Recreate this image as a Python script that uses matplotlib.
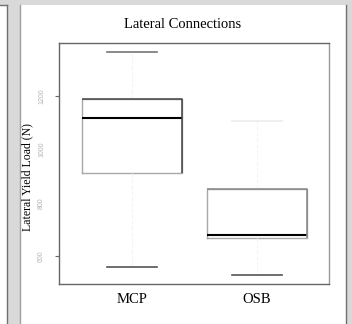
import matplotlib
matplotlib.use('Agg')
import matplotlib.pyplot as plt
from matplotlib.patches import Rectangle
from matplotlib.lines import Line2D

# data
groups = ['MCP', 'OSB']
whislo = [560, 528]
q1 = [912, 666]
med = [1116, 680]
q3 = [1189, 851]
whishi = [1366, 1107]
yticks = [600, 800, 1000, 1200]

W, H = 352, 324
fig = plt.figure(figsize=(W / 100, H / 100), dpi=100)
fig.patch.set_facecolor('white')

def px(x, y):
    # pixel (top-left origin) to figure fraction
    return x / W, 1 - y / H

def rect(x0, y0, x1, y1, color):
    fx, fy = px(x0, y1)
    fig.add_artist(Rectangle((fx, fy), (x1 - x0) / W, (y1 - y0) / H,
                             transform=fig.transFigure, color=color, lw=0, zorder=0))

def vline(x, y0, y1, color, lw=1):
    a, b = px(x, y0)
    c, d = px(x, y1)
    fig.add_artist(Line2D([a, c], [b, d], transform=fig.transFigure, color=color, lw=lw, zorder=1))

# page background (document screenshot)
gray = '#d9d9d9'
rect(0, 0, W, 5, gray)
rect(7, 0, 19.5, H, gray)
rect(345.5, 0, W, H, gray)
vline(7, 5, H, '#707070')
vline(19.5, 5, H, '#a0a0a0')
vline(345.5, 5, H, '#707070')
a, b = px(0, 5.3)
c, d = px(7, 5.3)
fig.add_artist(Line2D([a, c], [b, d], transform=fig.transFigure, color='#707070', lw=1, zorder=1))

ax = fig.add_axes([59 / W, 1 - 284 / H, 270 / W, 241 / H])
ax.set_facecolor('white')

stats = []
for i in range(len(groups)):
    stats.append({'label': groups[i], 'whislo': whislo[i], 'q1': q1[i], 'med': med[i],
                  'q3': q3[i], 'whishi': whishi[i], 'fliers': []})

bp = ax.bxp(stats, positions=[1, 2], widths=0.8, capwidths=0.4, showfliers=False,
            boxprops=dict(color='#a8a8a8', lw=1),
            medianprops=dict(color='black', lw=1.5),
            whiskerprops=dict(color='#f4f4f4', lw=0.8, ls='--'),
            capprops=dict(color='#555555', lw=1.2))
# OSB upper cap nearly invisible in the original
bp['caps'][3].set_color('#ececec')
bp['caps'][1].set_color('#777777')

# darker top / right edges of the boxes, as in the original
edge_cols = ['#444444', '#888888']
for i, pos in enumerate([1, 2]):
    ax.plot([pos - 0.4, pos + 0.4, pos + 0.4], [q3[i], q3[i], q1[i]],
            color=edge_cols[i], lw=1.1, solid_capstyle='butt', zorder=3)

ax.set_xlim(0.418, 2.578)
ax.set_ylim(495, 1399)

for s in ax.spines.values():
    s.set_color('#666666')
    s.set_linewidth(1)
ax.spines['right'].set_color('#999999')

ax.set_yticks(yticks)
ax.set_yticklabels([str(v) for v in yticks], rotation=90, va='center',
                   fontsize=5, color='#b4b4b4', family='Liberation Sans')
ax.tick_params(axis='y', length=3, color='#666666', pad=7)
for i, t in enumerate(ax.yaxis.get_major_ticks()):
    if yticks[i] in (800, 1000):
        t.tick1line.set_visible(False)
ax.tick_params(axis='x', length=0, pad=6.5)
for lab in ax.get_xticklabels():
    lab.set_family('Liberation Serif')
    lab.set_fontsize(10.5)

ax.set_ylabel('Lateral Yield Load (N)', family='Liberation Serif', fontsize=8.5)
ax.yaxis.set_label_coords(-0.096, 0.444)

tx, ty = px(183, 25)
fig.text(tx, ty, 'Lateral Connections', ha='center', va='center',
         family='Liberation Serif', fontsize=10.5)

fig.savefig('out.png', dpi=100)
